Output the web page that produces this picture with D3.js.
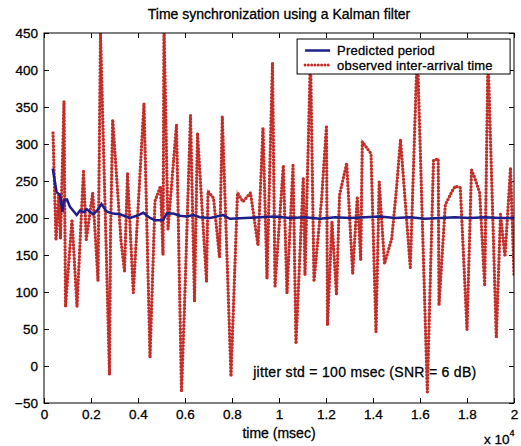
<!DOCTYPE html>
<html>
<head>
<meta charset="utf-8">
<script src="https://cdn.jsdelivr.net/npm/d3@7"></script>
<style>
  body { margin: 0; background: #fff; }
  text { font-family: "Liberation Sans", Arial, sans-serif; fill: #000; stroke: #000; stroke-width: 0.3px; }
  .axis text { font-size: 13.5px; }
</style>
</head>
<body>
<script>
var margin = {top: 33, right: 7, bottom: 43, left: 44},
	width = 521 - margin.left - margin.right,
	height = 446 - margin.top - margin.bottom;

// observed inter-arrival time (time in msec, value in msec)
var obsTime = [383, 511, 626, 702, 851, 915, 1191, 1404, 1681, 1800, 2072, 2298, 2404, 2787, 2830, 2923,
	3277, 3426, 3553, 3800, 4255, 4511, 4723, 4957, 5064, 5106, 5277, 5638, 5851, 5979, 6234, 6404, 6532,
	6915, 6979, 7213, 7468, 7587, 7957, 8234, 8468, 8787, 9106, 9319, 9489, 9723, 9830, 10183, 10340,
	10596, 10723, 11034, 11106, 11340, 11489, 11809, 12021, 12064, 12255, 12447, 12574, 12881, 13136,
	13332, 13477, 13545, 13915, 14128, 14264, 14489, 14796, 15000, 15170, 15587, 15885, 16311, 16574,
	16774, 16809, 17077, 17362, 17502, 17715, 18000, 18191, 18311, 18540, 18753, 18894, 19247, 19426,
	19617, 19851, 20000];
var obsValue = [315, 170, 231, 172, 358, 80, 198, 80, 265, 171, 234, 115, 450, -12, 176, 333,
	169, 128, 260, 99, 355, 11, 223, 243, 150, 460, 185, 326, -35, 81, 339, 87, 315,
	114, 236, 227, 147, 337, -14, 234, 222, 234, 163, 322, 118, 410, 108, 271, 98,
	271, 30, 255, 123, 420, 114, 224, 325, 55, 195, 96, 231, 274, 125,
	229, 143, 303, 287, 46, 249, 138, 172, 240, 306, 133, 430, -35, 278,
	280, 82, 218, 236, 243, 241, 49, 265, 256, 234, 108, 420, 38, 205,
	148, 268, 123];

// predicted period from the Kalman filter
var predTime = [370, 540, 681, 787, 851, 979, 1106, 1391, 1532, 1702, 1817, 2085, 2255, 2447, 2660, 2936,
	3234, 3660, 3945, 4226, 4511, 4723, 5064, 5221, 5502, 5787, 6072, 6353, 6638, 7064, 7617, 7915,
	8553, 9191, 9830, 10468, 11106, 11745, 12383, 13021, 13660, 14298, 14936, 15574, 16213, 16851,
	17489, 18128, 18766, 19404, 20000];
var predValue = [267, 235, 231, 208, 224, 225, 215, 204, 210, 208, 212, 205, 210, 219, 209, 206,
	205, 200, 203, 207, 200, 197, 197, 206, 206, 203, 202, 204, 201, 200, 204, 199,
	200, 201, 202, 200, 201, 199, 201, 200, 201, 202, 200, 201, 199, 200,
	201, 200, 201, 200, 200];

var xTicks = [0, 0.2, 0.4, 0.6, 0.8, 1, 1.2, 1.4, 1.6, 1.8, 2];
var yTicks = [-50, 0, 50, 100, 150, 200, 250, 300, 350, 400, 450];

var obs = obsTime.map(function(t, i) { return {t: t, v: obsValue[i]}; });
var pred = predTime.map(function(t, i) { return {t: t, v: predValue[i]}; });

var x = d3.scaleLinear()
	.domain([0, 20000])
	.range([0, width]);

var y = d3.scaleLinear()
	.domain([-50, 450])
	.range([height, 0]);

var chart = d3.select('body')
	.append('svg')
	.attr('width', width + margin.left + margin.right)
	.attr('height', height + margin.top + margin.bottom);

var main = chart.append('g')
	.attr('transform', 'translate(' + margin.left + ',' + margin.top + ')');

main.append('clipPath')
	.attr('id', 'plotclip')
	.append('rect')
	.attr('width', width)
	.attr('height', height);

// axes, ticks pointing inward like matlab
var xt = xTicks.map(function(d) { return d * 1e4; });

main.append('g')
	.attr('class', 'axis')
	.attr('transform', 'translate(0,' + height + ')')
	.call(d3.axisBottom(x).tickValues(xt).tickSize(-5).tickPadding(6)
		.tickFormat(function(d) { return d3.format('')(+(d / 1e4).toFixed(1)); }));

main.append('g')
	.attr('class', 'axis')
	.call(d3.axisTop(x).tickValues(xt).tickSize(-5).tickFormat(''));

main.append('g')
	.attr('class', 'axis')
	.call(d3.axisLeft(y).tickValues(yTicks).tickSize(-5).tickPadding(6));

main.append('g')
	.attr('class', 'axis')
	.attr('transform', 'translate(' + width + ',0)')
	.call(d3.axisRight(y).tickValues(yTicks).tickSize(-5).tickFormat(''));

main.selectAll('.axis .domain').remove();
main.selectAll('.axis line').attr('stroke', '#000');

var line = d3.line()
	.x(function(d) { return x(d.t); })
	.y(function(d) { return y(d.v); });

var plot = main.append('g').attr('clip-path', 'url(#plotclip)');

// faint underlay so gaps between the dots look pinkish
plot.append('path')
	.datum(obs)
	.attr('d', line)
	.attr('fill', 'none')
	.attr('stroke', '#eab4b0')
	.attr('stroke-width', 2.4);

plot.append('path')
	.datum(obs)
	.attr('d', line)
	.attr('fill', 'none')
	.attr('stroke', '#c42c28')
	.attr('stroke-width', 3.3)
	.attr('stroke-linecap', 'round')
	.attr('stroke-dasharray', '0,3.4');

plot.append('path')
	.datum(pred)
	.attr('d', line)
	.attr('fill', 'none')
	.attr('stroke', '#1c1f8a')
	.attr('stroke-width', 2.5);

// frame
main.append('rect')
	.attr('width', width)
	.attr('height', height)
	.attr('fill', 'none')
	.attr('stroke', '#000');

// legend
var legend = main.append('g')
	.attr('transform', 'translate(' + (x(10770)) + ',' + 6 + ')');

legend.append('rect')
	.attr('width', 213)
	.attr('height', 35)
	.attr('fill', '#fff')
	.attr('stroke', '#000');

legend.append('line')
	.attr('x1', 8).attr('x2', 33).attr('y1', 11.5).attr('y2', 11.5)
	.attr('stroke', '#1c1f8a').attr('stroke-width', 2.5);

legend.append('line')
	.attr('x1', 8).attr('x2', 33).attr('y1', 26).attr('y2', 26)
	.attr('stroke', '#c42c28').attr('stroke-width', 3)
	.attr('stroke-linecap', 'round').attr('stroke-dasharray', '0,3.3');

legend.append('text')
	.attr('x', 40).attr('y', 16)
	.style('font-size', '13px')
	.style('letter-spacing', '0.2px')
	.text('Predicted period');

legend.append('text')
	.attr('x', 40).attr('y', 31)
	.style('font-size', '13px')
	.style('letter-spacing', '0.2px')
	.text('observed inter-arrival time');

// annotation
main.append('text')
	.attr('x', x(8900))
	.attr('y', y(-15))
	.style('font-size', '14px')
	.style('letter-spacing', '0.3px')
	.text('jitter std = 100 msec (SNR = 6 dB)');

// titles
main.append('text')
	.attr('text-anchor', 'middle')
	.attr('x', width / 2)
	.attr('y', -14)
	.style('font-size', '14px')
	.text('Time synchronization using a Kalman filter');

main.append('text')
	.attr('text-anchor', 'middle')
	.attr('x', width / 2)
	.attr('y', height + 35)
	.style('font-size', '14px')
	.text('time (msec)');

var mult = main.append('text')
	.attr('x', width - 30)
	.attr('y', height + 41)
	.style('font-size', '13.5px');
mult.append('tspan').text('x 10');
mult.append('tspan').attr('dy', -8).style('font-size', '9px').text('4');
</script>
</body>
</html>
